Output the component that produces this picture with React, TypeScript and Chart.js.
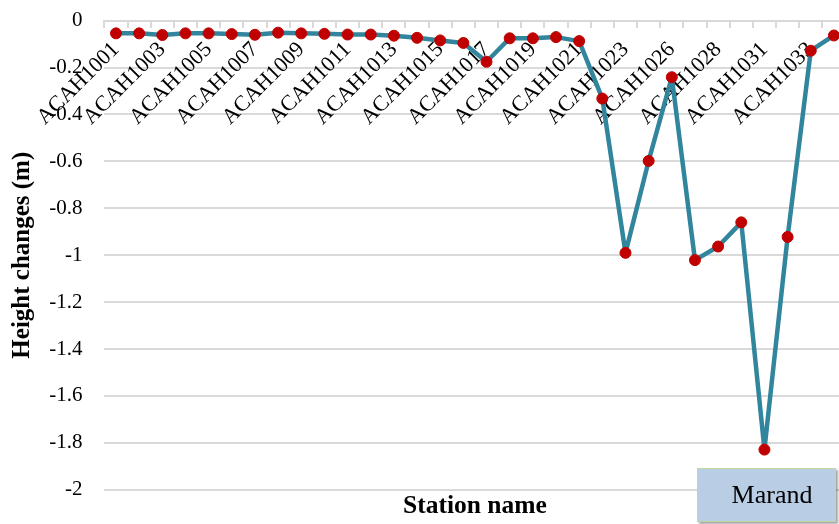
import React, { useEffect, useRef } from "react";
import { Chart, registerables } from "chart.js";

Chart.register(...registerables);

const stations: string[] = [
  "ACAH1001", "ACAH1002", "ACAH1003", "ACAH1004", "ACAH1005", "ACAH1006",
  "ACAH1007", "ACAH1008", "ACAH1009", "ACAH1010", "ACAH1011", "ACAH1012",
  "ACAH1013", "ACAH1014", "ACAH1015", "ACAH1016", "ACAH1017", "ACAH1018",
  "ACAH1019", "ACAH1020", "ACAH1021", "ACAH1022", "ACAH1023", "ACAH1025",
  "ACAH1026", "ACAH1027", "ACAH1028", "ACAH1030", "ACAH1031", "ACAH1032",
  "ACAH1033", "ACAH1034",
];

const heightChanges: number[] = [
  -0.054, -0.054, -0.061, -0.054, -0.054, -0.057, -0.06, -0.051, -0.054,
  -0.056, -0.059, -0.059, -0.064, -0.073, -0.084, -0.095, -0.175, -0.075,
  -0.075, -0.07, -0.087, -0.332, -0.99, -0.598, -0.241, -1.021, -0.963,
  -0.86, -1.829, -0.922, -0.128, -0.063,
];

const yMin = -2;
const yMax = 0;
const yStep = 0.2;

const FONT = "'Liberation Serif', 'Times New Roman', serif";

export default function App() {
  const ref = useRef<HTMLCanvasElement | null>(null);

  useEffect(() => {
    if (!ref.current) return;
    const chart = new Chart(ref.current, {
      type: "line",
      data: {
        labels: stations,
        datasets: [
          {
            data: heightChanges,
            borderColor: "#31859C",
            borderWidth: 4.5,
            borderJoinStyle: "round",
            borderCapStyle: "round",
            pointBackgroundColor: "#C00000",
            pointBorderColor: "#C00000",
            pointBorderWidth: 1,
            pointRadius: 5.5,
            tension: 0,
          },
        ],
      },
      options: {
        responsive: false,
        animation: false,
        layout: { padding: { top: 20.7, left: 0, right: 0, bottom: 0 } },
        plugins: {
          legend: { display: false },
          tooltip: { enabled: false },
          title: {
            display: true,
            text: "Station name",
            position: "bottom",
            fullSize: false,
            color: "#000",
            font: { family: FONT, size: 25.5, weight: "bold", lineHeight: 1.2 },
            padding: { top: 1.7, bottom: 2 },
          },
        },
        scales: {
          x: {
            type: "category",
            position: { y: 0 } as any,
            offset: true,
            grid: {
              display: true,
              drawOnChartArea: false,
              offset: true,
              drawTicks: true,
              tickLength: 6,
              color: "#d9d9d9",
              lineWidth: 2,
            },
            border: { display: true, color: "#d9d9d9", width: 2 },
            ticks: {
              autoSkip: false,
              maxRotation: 45,
              minRotation: 45,
              padding: 10,
              color: "#000",
              font: { family: FONT, size: 22 },
              callback: (_v: any, i: number) => (i % 2 === 0 ? stations[i] : ""),
            },
            afterFit: (s: any) => {
              s.paddingLeft = 0;
              s.paddingRight = 0;
              s.paddingTop = 0;
              s.paddingBottom = 0;
            },
          },
          y: {
            min: yMin,
            max: yMax,
            ticks: {
              stepSize: yStep,
              padding: 22,
              color: "#000",
              font: { family: FONT, size: 21 },
              callback: (v: any) => String(Number(Number(v).toFixed(1))),
            },
            grid: { color: "#d9d9d9", lineWidth: 2, drawTicks: false },
            border: { display: false },
            title: {
              display: true,
              text: "Height changes (m)",
              color: "#000",
              font: { family: FONT, size: 25, weight: "bold", lineHeight: 1.2 },
              padding: { top: 7.5, bottom: 0 },
            },
            afterFit: (s: any) => {
              s.width = 104.4;
              s.paddingTop = 0;
              s.paddingBottom = 0;
            },
          },
        },
      },
    });
    return () => chart.destroy();
  }, []);

  return (
    <div
      style={{
        position: "fixed",
        left: 0,
        top: 0,
        width: 839,
        height: 524,
        overflow: "hidden",
        background: "#fff",
      }}
    >
      <canvas ref={ref} width={852} height={524} style={{ width: 852, height: 524, display: "block" }} />
      <div
        style={{
          position: "absolute",
          left: 697,
          top: 468,
          width: 139,
          height: 54,
          boxSizing: "border-box",
          background: "#B9CDE5",
          border: "1.5px solid #C3D69B",
          boxShadow: "2px 2px 2px rgba(0,0,0,0.35)",
          display: "flex",
          alignItems: "center",
          justifyContent: "center",
          paddingLeft: 11,
          fontFamily: FONT,
          fontSize: 26,
          lineHeight: 1,
          color: "#000",
        }}
      >
        Marand
      </div>
    </div>
  );
}
